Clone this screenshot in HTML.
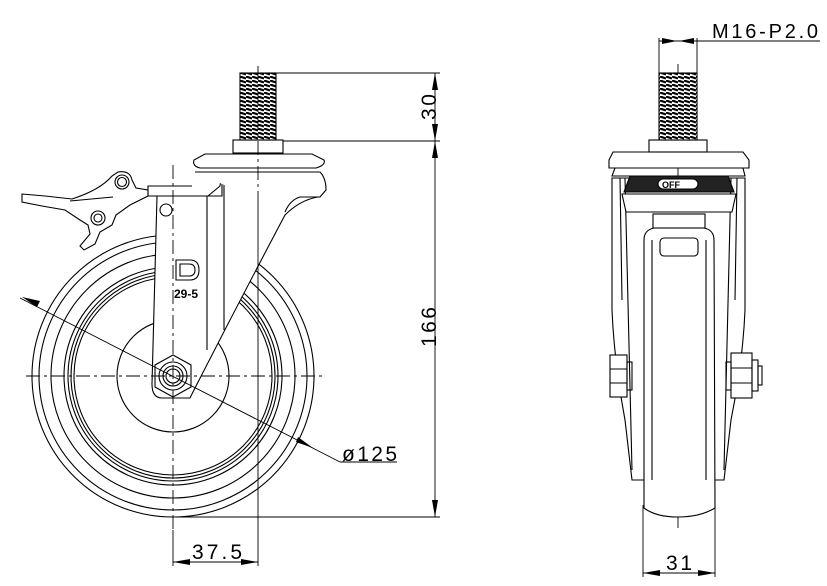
<!DOCTYPE html>
<html><head><meta charset="utf-8"><style>
html,body{margin:0;padding:0;background:#fff;}
svg{display:block}
text{font-family:"Liberation Sans",sans-serif;fill:#000}
</style></head><body>
<svg width="827" height="586" viewBox="0 0 827 586" xmlns="http://www.w3.org/2000/svg" fill="none" stroke="#000" stroke-width="1.1">
<defs>
<pattern id="thr" width="6" height="4" patternUnits="userSpaceOnUse">
<rect width="6" height="4" fill="#fff" stroke="none"/>
<path d="M0 0.5 L6 2.5" stroke="#000" stroke-width="2.2"/>
</pattern>
</defs>
<!-- ===== LEFT VIEW ===== -->
<g>
<circle cx="173" cy="376" r="141"/>
<circle cx="173" cy="376" r="134"/>
<circle cx="173" cy="376" r="122"/>
<circle cx="173" cy="376" r="109"/>
<circle cx="173" cy="376" r="105"/>
<circle cx="173" cy="376" r="102"/>
<circle cx="173" cy="376" r="99"/>
<circle cx="173" cy="376" r="56"/>
</g>
<path d="M157 196 L152 384 Q152 398 162 398 L190 398 L195 388 Q240 300 285 215 Q300 200 318 197 L318 185 L222 180 L222 196 Z" fill="#fff"/>
<line x1="207" y1="182" x2="207" y2="350"/>
<line x1="224" y1="182" x2="224" y2="330"/>
<path d="M192 186 L148 186 L148 196 L208 196 L220 186 L222 172" fill="#fff"/>
<path d="M195 172 L320 172 Q326 178 326 190 L320 197 L300 197 Q290 200 285 212" fill="#fff"/>
<path d="M200 168 L316 168 Q326 165 324 160 L312 154 L205 154 L194 160 Q192 166 200 168 Z" fill="#fff"/>
<rect x="233" y="140" width="50" height="13" fill="#fff"/>
<rect x="240" y="73" width="36" height="67" fill="url(#thr)"/>
<circle cx="166" cy="210" r="6"/>
<path d="M176 260 L190 260 Q199 260 199 270 Q199 280 190 280 L176 280 Z"/>
<path d="M180 264 L189 264 Q195 264 195 270 Q195 276 189 276 L180 276 Z"/>
<text x="174" y="298" font-size="12" font-weight="bold" stroke="none">29-5</text>
<polygon points="173,355 191,365 191,387 173,397 155,387 155,365" fill="#fff"/>
<circle cx="173" cy="376" r="14"/>
<circle cx="173" cy="376" r="10"/>
<circle cx="173" cy="376" r="7"/>
<path d="M22 194 L45 196 L72 199 Q100 190 112 176 L118 172 Q130 170 132 180 L136 188 L148 190 L148 196 L130 205 L116 215 L112 225 L100 232 L95 244 L84 250 L80 246 L90 234 L88 225 L80 220 L65 210 L42 206 L22 202 Z" fill="#fff"/>
<circle cx="122" cy="182" r="7"/>
<circle cx="122" cy="182" r="4.5"/>
<circle cx="98" cy="218" r="7"/>
<circle cx="98" cy="218" r="4"/>
<line x1="70" y1="201" x2="113" y2="197"/>
<g stroke-dasharray="14,4,3,4" stroke-width="0.9">
<line x1="26" y1="376" x2="322" y2="376"/>
<line x1="173" y1="165" x2="173" y2="530"/>
<line x1="258" y1="66" x2="258" y2="200"/>
<line x1="678" y1="64" x2="678" y2="530"/>
</g>
<g stroke-width="0.9">
<line x1="276" y1="73" x2="440" y2="73"/>
<line x1="283" y1="141" x2="440" y2="141"/>
<line x1="176" y1="517" x2="440" y2="517"/>
<line x1="435" y1="73" x2="435" y2="517"/>
<line x1="258" y1="200" x2="258" y2="566"/>
<line x1="173" y1="530" x2="173" y2="566"/>
<line x1="173" y1="562" x2="258" y2="562"/>
<line x1="20" y1="298" x2="340" y2="462"/>
<line x1="340" y1="462" x2="397" y2="462"/>
</g>
<g fill="#000" stroke="none">
<polygon points="435,73 432,90 438,90"/>
<polygon points="435,141 432,124 438,124"/>
<polygon points="435,141 432,158 438,158"/>
<polygon points="435,517 432,500 438,500"/>
<polygon points="173,562 190,559 190,565"/>
<polygon points="258,562 241,559 241,565"/>
<polygon points="37,307 22,297 40,301"/>
<polygon points="313,448 298,437 296,442"/>
</g>
<text x="436" y="107" font-size="21" stroke="none" transform="rotate(-90 436 107)" text-anchor="middle" textLength="26">30</text>
<text x="436" y="327" font-size="21" stroke="none" transform="rotate(-90 436 327)" text-anchor="middle" textLength="40">166</text>
<text x="192" y="559" font-size="21" stroke="none" textLength="50">37.5</text>
<text x="342" y="461" font-size="21" stroke="none" textLength="55">ø125</text>
<!-- ===== RIGHT VIEW ===== -->
<path d="M612 178 L612 310 Q614 360 625 420 L632 480 L724 480 L731 420 Q743 360 745 310 L745 178 Z" fill="#fff"/>
<line x1="625" y1="178" x2="632" y2="470"/>
<line x1="731" y1="178" x2="724" y2="470"/>
<line x1="620" y1="178" x2="622" y2="300"/>
<line x1="737" y1="178" x2="735" y2="300"/>
<path d="M644 240 Q644 230 654 228 L704 228 Q714 230 714 240 L715 508 Q700 517 678 517 Q656 517 644 508 Z" fill="#fff"/>
<line x1="652" y1="240" x2="652" y2="480"/>
<line x1="706" y1="240" x2="706" y2="480"/>
<path d="M615 168 L743 168 L745 176 L612 176 Z"/>
<path d="M622 194 L736 194 L732 212 L626 212 Z" fill="#fff"/>
<path d="M630 176 L728 176 L734 192 L624 192 Z" fill="#222"/>
<rect x="658" y="179" width="40" height="10" rx="5" fill="#fff"/>
<text x="662" y="188" font-size="9" font-weight="bold" stroke="none">OFF</text>
<rect x="653" y="214" width="52" height="14" fill="#fff"/>
<rect x="660" y="238" width="38" height="18" rx="4" fill="#fff"/>
<path d="M613 152 L743 152 L749 160 L749 168 L609 168 L609 160 Z" fill="#fff"/>
<rect x="649" y="140" width="58" height="12" fill="#fff"/>
<rect x="659" y="73" width="38" height="67" fill="url(#thr)"/>
<rect x="610" y="355" width="17" height="42" fill="#fff"/>
<line x1="610" y1="369" x2="627" y2="369"/><line x1="610" y1="383" x2="627" y2="383"/>
<rect x="627" y="362" width="5" height="28"/>
<rect x="731" y="353" width="21" height="45" fill="#fff"/>
<line x1="731" y1="368" x2="752" y2="368"/><line x1="731" y1="383" x2="752" y2="383"/>
<rect x="726" y="362" width="5" height="28"/>
<rect x="752" y="360" width="6" height="31"/>
<rect x="758" y="366" width="4" height="19"/>
<g stroke-width="0.9">
<line x1="659" y1="38" x2="659" y2="73"/>
<line x1="697" y1="38" x2="697" y2="73"/>
<line x1="659" y1="41" x2="820" y2="41"/>
<line x1="643" y1="505" x2="643" y2="577"/>
<line x1="715" y1="505" x2="715" y2="577"/>
<line x1="643" y1="573" x2="715" y2="573"/>
</g>
<g fill="#000" stroke="none">
<polygon points="677,41 662,38 662,44"/>
<polygon points="679,41 694,38 694,44"/>
<polygon points="643,573 660,570 660,576"/>
<polygon points="715,573 698,570 698,576"/>
</g>
<text x="712" y="38" font-size="20" stroke="none" textLength="106">M16-P2.0</text>
<text x="666" y="570" font-size="21" stroke="none" textLength="26">31</text>
</svg>
</body></html>
